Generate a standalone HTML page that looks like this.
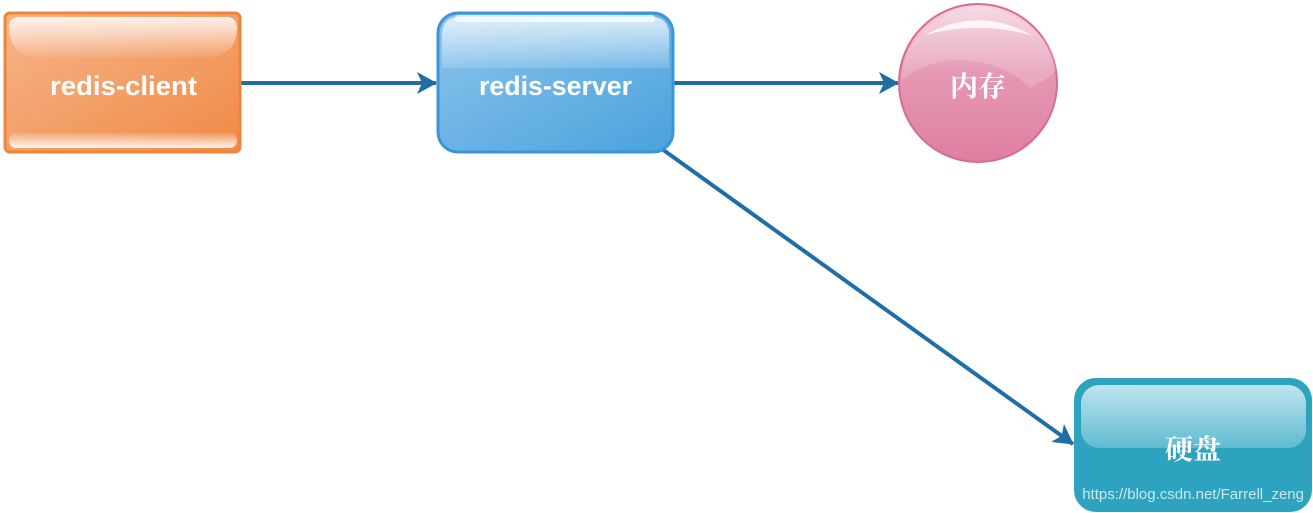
<!DOCTYPE html>
<html><head><meta charset="utf-8"><style>html,body{margin:0;padding:0;background:#fff;}svg{display:block}</style></head>
<body>
<svg width="1313" height="513" viewBox="0 0 1313 513" xmlns="http://www.w3.org/2000/svg">
<defs>
<linearGradient id="og" x1="0" y1="0" x2="1" y2="1"><stop offset="0" stop-color="#f5b58b"/><stop offset="1" stop-color="#f08a45"/></linearGradient>
<linearGradient id="ogl" x1="0" y1="0" x2="0" y2="1"><stop offset="0" stop-color="#fff" stop-opacity="0.85"/><stop offset="1" stop-color="#fff" stop-opacity="0.05"/></linearGradient>
<linearGradient id="ogb" x1="0" y1="0" x2="0" y2="1"><stop offset="0" stop-color="#fff" stop-opacity="0.1"/><stop offset="1" stop-color="#fff" stop-opacity="0.9"/></linearGradient>
<linearGradient id="bg" x1="0" y1="0" x2="1" y2="1"><stop offset="0" stop-color="#8cc4ec"/><stop offset="1" stop-color="#4aa2dd"/></linearGradient>
<linearGradient id="bgl" x1="0" y1="0" x2="0" y2="1"><stop offset="0" stop-color="#fff" stop-opacity="0.75"/><stop offset="1" stop-color="#fff" stop-opacity="0.15"/></linearGradient>
<linearGradient id="pg" x1="0" y1="0" x2="0" y2="1"><stop offset="0" stop-color="#f4d4e0"/><stop offset="0.45" stop-color="#e597b3"/><stop offset="1" stop-color="#df7ea1"/></linearGradient>
<linearGradient id="tg" x1="0" y1="0" x2="0" y2="1"><stop offset="0" stop-color="#bfe5ee"/><stop offset="1" stop-color="#5fbbd2"/></linearGradient>
<marker id="ar" markerWidth="22" markerHeight="24" refX="19" refY="11" orient="auto" markerUnits="userSpaceOnUse">
<path d="M0,0 L20,11 L0,22 L5,11 Z" fill="#1f6ea6"/></marker>
</defs>
<g stroke="#1f6ea6" stroke-width="4" fill="none">
<line x1="241" y1="83" x2="436" y2="83" marker-end="url(#ar)"/>
<line x1="673" y1="83" x2="898" y2="83" marker-end="url(#ar)"/>
<line x1="662" y1="149" x2="1073" y2="444" marker-end="url(#ar)"/>
</g>
<rect x="5" y="13" width="235" height="139" rx="5" fill="url(#og)" stroke="#ef843a" stroke-width="3"/>
<path d="M9,28 Q9,17 20,17 L226,17 Q237,17 237,28 Q237,58 200,58 L46,58 Q9,58 9,28 Z" fill="url(#ogl)"/>
<rect x="9" y="133" width="228" height="15" rx="7" fill="url(#ogb)"/>
<text x="50" y="95" textLength="147" lengthAdjust="spacingAndGlyphs" font-family="Liberation Sans, sans-serif" font-weight="bold" font-size="27" fill="#fff">redis-client</text>
<rect x="438" y="13" width="235" height="139" rx="20" fill="url(#bg)" stroke="#3a96d8" stroke-width="3"/>
<path d="M442,35 Q442,17 460,17 L651,17 Q669,17 669,35 L669,68 L442,68 Z" fill="url(#bgl)"/>
<rect x="455" y="15" width="200" height="7" rx="3" fill="#fff" opacity="0.7"/>
<text x="479" y="95" textLength="153" lengthAdjust="spacingAndGlyphs" font-family="Liberation Sans, sans-serif" font-weight="bold" font-size="27" fill="#fff">redis-server</text>
<circle cx="978" cy="83" r="79" fill="url(#pg)" stroke="#d86b93" stroke-width="2"/>
<path d="M901,80 Q930,58 965,60 Q1005,63 1030,88 Q1055,75 1056,70 Q1050,20 978,5 Q905,20 901,80 Z" fill="#fff" opacity="0.18"/>
<path d="M925,35 Q980,5 1033,36 Q980,20 925,35 Z" fill="#fff" opacity="0.8"/>
<text x="978" y="96" text-anchor="middle" font-family="Liberation Serif, Noto Serif CJK SC, serif" font-weight="bold" font-size="28" fill="#fff">内存</text>
<rect x="1074" y="378" width="238" height="134" rx="22" fill="#2ea3c0"/>
<rect x="1081" y="385" width="225" height="63" rx="18" fill="url(#tg)"/>
<text x="1193" y="459" text-anchor="middle" font-family="Liberation Serif, Noto Serif CJK SC, serif" font-weight="bold" font-size="28" fill="#fff">硬盘</text>
<text x="1304" y="499" text-anchor="end" font-family="Liberation Sans, sans-serif" font-size="15" fill="#dceff5" opacity="0.9">https://blog.csdn.net/Farrell_zeng</text>
</svg>
</body></html>
